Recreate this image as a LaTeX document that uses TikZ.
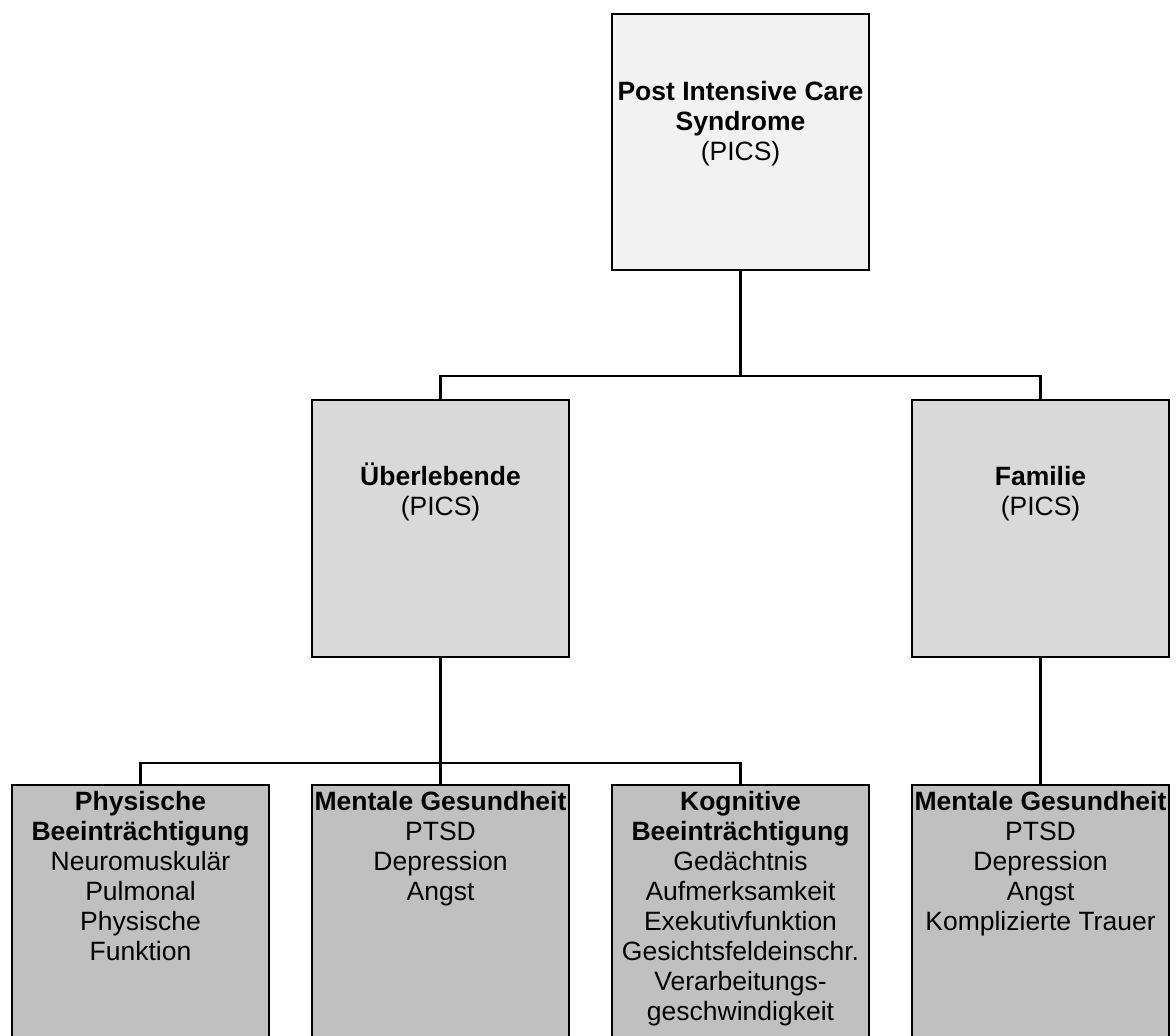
\documentclass[tikz,border=0pt]{standalone}
\usepackage{fontspec}
\setmainfont{Liberation Sans}
\newcommand\firststrut{\rule{0pt}{24pt}}
\begin{document}
\begin{tikzpicture}[x=1pt,y=-1pt,
  box/.style={draw=black,line width=2pt,minimum width=257pt,minimum height=257pt,inner sep=0pt,anchor=north west},
  lvla/.style={box,fill={rgb,255:red,242;green,242;blue,242},minimum height=256pt},
  lvlb/.style={box,fill={rgb,255:red,217;green,217;blue,217}},
  lvlc/.style={box,fill={rgb,255:red,192;green,192;blue,192}},
  txt/.style={align=center,inner sep=0pt,anchor=north,font=\fontsize{26.5}{30}\selectfont},
  conn/.style={draw=black,line width=2.6pt}]
\useasboundingbox (0,0) rectangle (1176,1036);
\clip (0,0) rectangle (1176,1036);
% boxes
\node[lvla] (top) at (611,13) {};
\node[lvlb] (surv) at (311,399) {};
\node[lvlb] (fam) at (911,399) {};
\node[lvlc] (b1) at (11,784) {};
\node[lvlc] (b2) at (311,784) {};
\node[lvlc] (b3) at (611,784) {};
\node[lvlc] (b4) at (911,784) {};
% texts
\node[txt] (ttop) at ([yshift=-63pt]top.north) {\firststrut\textbf{Post Intensive Care}\\\textbf{Syndrome}\\(PICS)};
\node[txt] (tsurv) at ([yshift=-62pt]surv.north) {\firststrut\textbf{Überlebende}\\(PICS)};
\node[txt] (tfam) at ([yshift=-62pt]fam.north) {\firststrut\textbf{Familie}\\(PICS)};
\node[txt] (tb1) at ([yshift=-2pt]b1.north) {\firststrut\textbf{Physische}\\\textbf{Beeinträchtigung}\\Neuromuskulär\\Pulmonal\\Physische\\Funktion};
\node[txt] (tb2) at ([yshift=-2pt]b2.north) {\firststrut\textbf{Mentale Gesundheit}\\PTSD\\Depression\\Angst};
\node[txt] (tb3) at ([yshift=-2pt]b3.north) {\firststrut\textbf{Kognitive}\\\textbf{Beeinträchtigung}\\Gedächtnis\\Aufmerksamkeit\\Exekutivfunktion\\Gesichtsfeldeinschr.\\Verarbeitungs-\\geschwindigkeit};
\node[txt] (tb4) at ([yshift=-2pt]b4.north) {\firststrut\textbf{Mentale Gesundheit}\\PTSD\\Depression\\Angst\\Komplizierte Trauer};
% connectors
\coordinate (j1) at ([yshift=-105pt]top.south);
\coordinate (j2) at ([yshift=-105pt]surv.south);
\draw[conn] (top.south) -- (j1);
\draw[conn] (surv.north) |- (j1) -| (fam.north);
\draw[conn] (surv.south) -- (b2.north);
\draw[conn] (b1.north) |- (j2) -| (b3.north);
\draw[conn] (fam.south) -- (b4.north);
\end{tikzpicture}
\end{document}
